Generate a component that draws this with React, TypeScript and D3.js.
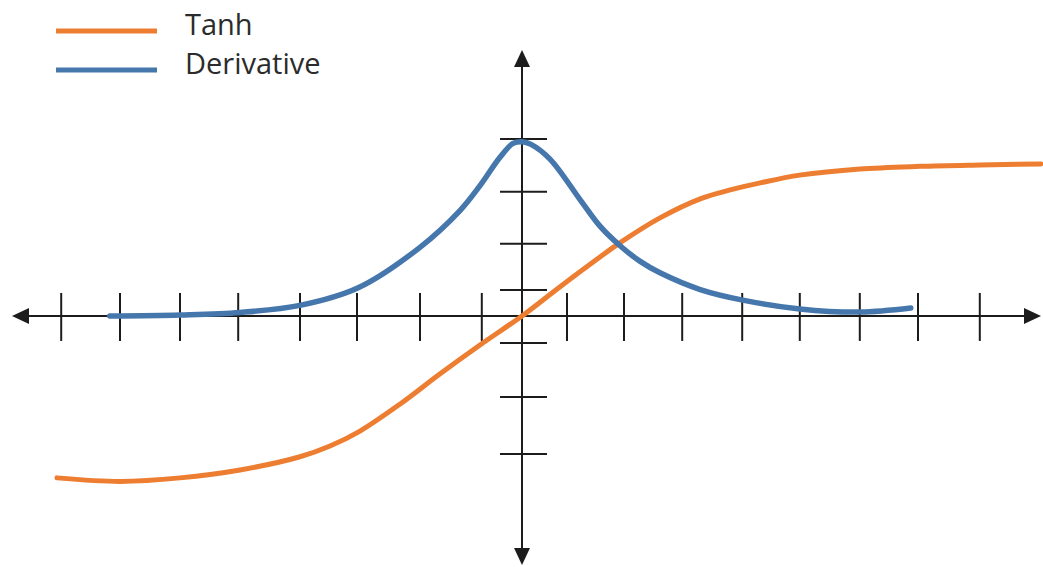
import React from "react";
import * as d3 from "d3";

const W = 1043;
const H = 567;

// Data (x in tick units, y in derivative-peak units)
const tanhX = [-7.75, -6.7, -5.7, -4.7, -3.7, -3.2, -2.7, -2.03, -1.37, -0.7, 0, 0.63, 1.3, 1.63, 2.3, 2.97, 3.47, 3.97, 4.63, 5.63, 6.63, 7.63, 8.65];
const tanhY = [-0.92, -0.94, -0.92, -0.875, -0.8, -0.739, -0.654, -0.5, -0.33, -0.165, 0, 0.165, 0.335, 0.415, 0.557, 0.665, 0.716, 0.756, 0.8, 0.835, 0.85, 0.858, 0.864];

const derivX = [-6.87, -5.7, -4.7, -3.7, -2.73, -1.7, -1.03, -0.7, -0.37, -0.15, 0, 0.15, 0.47, 0.97, 1.3, 1.63, 1.97, 2.3, 2.97, 3.68, 4.63, 5.63, 6.48];
const derivY = [0, 0.006, 0.02, 0.06, 0.16, 0.39, 0.6, 0.74, 0.9, 0.98, 0.99, 0.975, 0.89, 0.66, 0.51, 0.4, 0.31, 0.245, 0.15, 0.09, 0.04, 0.022, 0.045];

const xTicks = [-7.68, -6.7, -5.7, -4.73, -3.7, -2.75, -1.7, -0.67, 0.75, 1.7, 2.67, 3.67, 4.63, 5.63, 6.6, 7.63];
const yTicks = [1.006, 0.705, 0.41, 0.148, -0.153, -0.46, -0.784];

const seriesNames = ["Tanh", "Derivative"];
const seriesColors = ["#ED7D31", "#4577AD"];

export default function App() {
  const x = d3.scaleLinear().domain([-8.5, 8.65]).range([12, 1041]);
  const y = d3.scaleLinear().domain([-1.415, 1.511]).range([565, 50]);

  const x0 = x(0);
  const y0 = y(0);

  const line = d3
    .line<[number, number]>()
    .x((d) => x(d[0]))
    .y((d) => y(d[1]))
    .curve(d3.curveCatmullRom.alpha(0.5));

  const tanhPts = tanhX.map((v, i) => [v, tanhY[i]] as [number, number]);
  const derivPts = derivX.map((v, i) => [v, derivY[i]] as [number, number]);

  const axisColor = "#1c1c1c";
  const xMin = x.range()[0];
  const xMax = x.range()[1];
  const yTop = y.range()[1];
  const yBot = y.range()[0];
  const ah = 17;
  const aw = 8;

  return (
    <svg
      width={W}
      height={H}
      style={{ position: "absolute", left: 0, top: 0, background: "#fff" }}
    >
      {/* axes */}
      <line x1={xMin + 4} x2={xMax - 4} y1={y0} y2={y0} stroke={axisColor} strokeWidth={2} />
      <line x1={x0} x2={x0} y1={yTop + 4} y2={yBot - 4} stroke={axisColor} strokeWidth={2} />
      <path d={`M${xMin},${y0} L${xMin + ah},${y0 - aw} L${xMin + ah},${y0 + aw} Z`} fill={axisColor} />
      <path d={`M${xMax},${y0} L${xMax - ah},${y0 - aw} L${xMax - ah},${y0 + aw} Z`} fill={axisColor} />
      <path d={`M${x0},${yTop} L${x0 - aw},${yTop + ah} L${x0 + aw},${yTop + ah} Z`} fill={axisColor} />
      <path d={`M${x0},${yBot} L${x0 - aw},${yBot - ah} L${x0 + aw},${yBot - ah} Z`} fill={axisColor} />

      {/* ticks */}
      {xTicks.map((t, i) => (
        <line key={"xt" + i} x1={x(t)} x2={x(t)} y1={y0 - 23} y2={y0 + 25} stroke={axisColor} strokeWidth={2} />
      ))}
      {yTicks.map((t, i) => (
        <line key={"yt" + i} x1={x0 - 22} x2={x0 + 25} y1={y(t)} y2={y(t)} stroke={axisColor} strokeWidth={2} />
      ))}

      {/* curves */}
      <path d={line(tanhPts) || ""} fill="none" stroke={seriesColors[0]} strokeWidth={5} strokeLinecap="round" />
      <path d={line(derivPts) || ""} fill="none" stroke={seriesColors[1]} strokeWidth={5.5} strokeLinecap="round" />

      {/* legend */}
      {seriesNames.map((name, i) => (
        <g key={name}>
          <line x1={56} x2={157} y1={31 + i * 39} y2={31 + i * 39} stroke={seriesColors[i]} strokeWidth={5} />
          <text
            x={185}
            y={35 + i * 39}
            fontFamily="'Open Sans', 'Noto Sans', sans-serif"
            fontSize={29}
            fill="#2b2b2b"
          >
            {name}
          </text>
        </g>
      ))}
    </svg>
  );
}
